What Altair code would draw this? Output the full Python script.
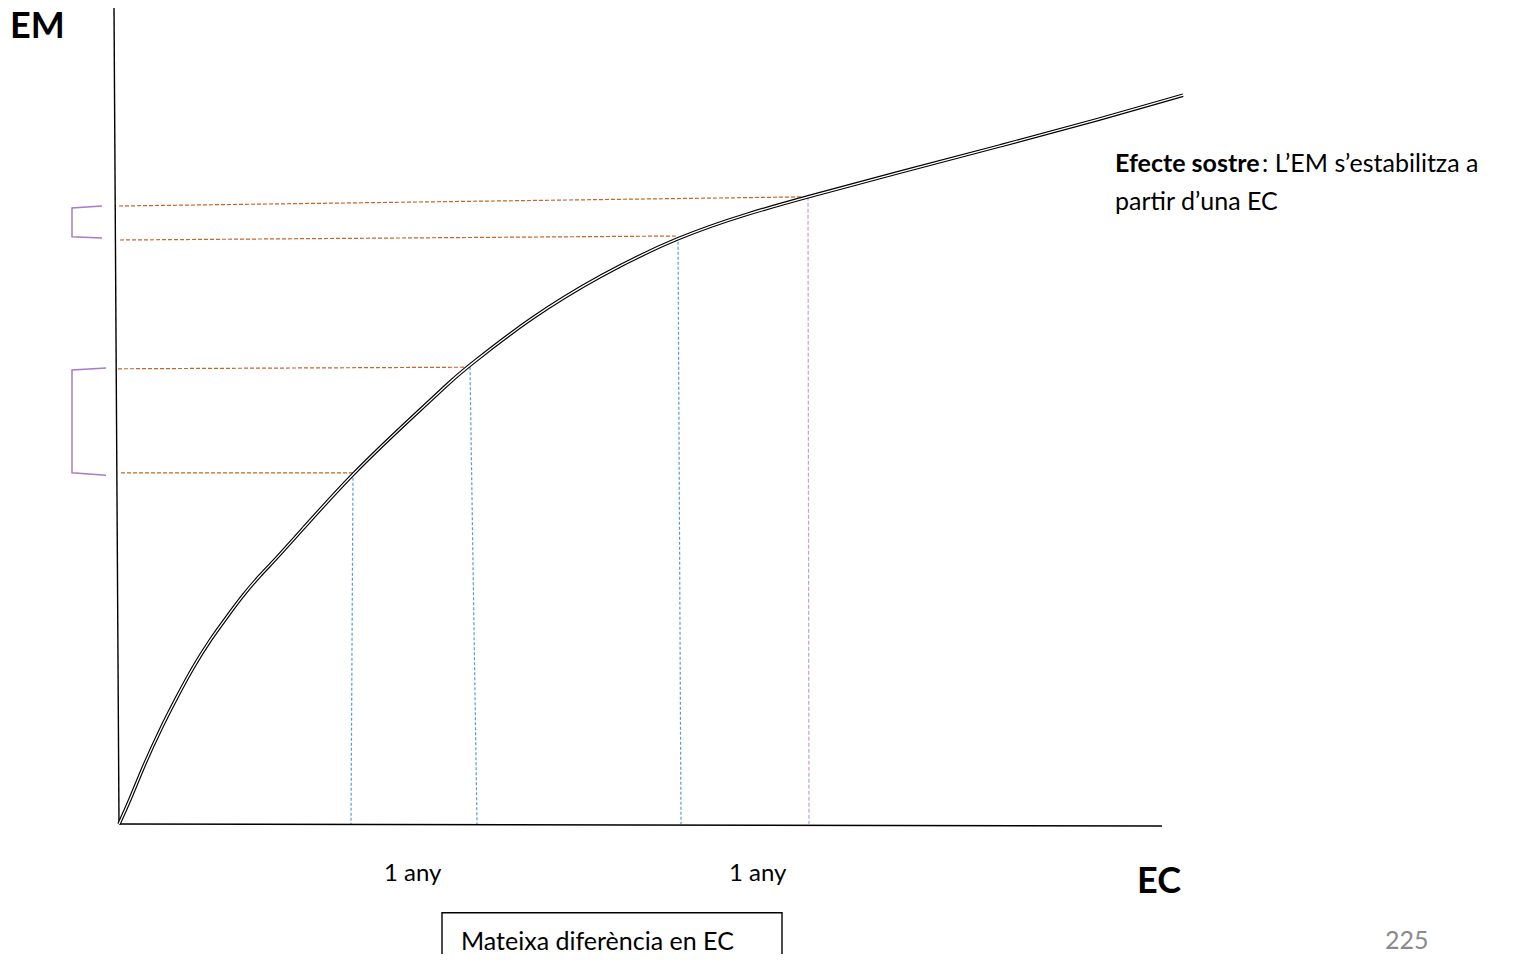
import altair as alt
import pandas as pd

# ---- data (EC on x, EM on y; origin at the axes' corner) ----
curve_ec = [0, 1.1, 2.4, 4.1, 5.8, 7.4, 9.1, 10.8, 12.4, 14.1, 15.6, 18.1, 23.4, 29.1, 33.3, 34.8, 41.1, 48.1, 55.9, 63.1, 68.9, 78.1, 88.1, 98.1, 106.4]
curve_em = [0, 3.0, 7.1, 11.75, 15.9, 19.6, 23.0, 25.9, 28.6, 31.1, 33.0, 36.5, 43.9, 50.6, 55.5, 57.1, 63.25, 68.6, 73.4, 76.4, 78.4, 81.5, 84.75, 88.1, 91.1]

# horizontal orange dashed guides: (ec_start, em_start, ec_end, em_end)
h_guides = [(0.0, 77.25, 68.9, 78.4), (0.1, 73.0, 55.9, 73.5), (-0.1, 56.9, 34.8, 57.1), (0.2, 43.9, 23.4, 43.9)]
# vertical blue dashed guides
v_blue = [(23.4, 43.9, 23.2, 0.0), (35.1, 57.1, 35.8, 0.0), (55.9, 73.4, 56.2, 0.0)]
# vertical purple dashed guide
v_purple = [(68.9, 78.4, 69.0, 0.0)]

# brackets on the EM axis
bracket_ec = [[-1.7, -4.7, -4.7, -1.7], [-1.3, -4.7, -4.7, -1.3]]
bracket_em = [[77.25, 77.0, 73.4, 73.25], [57.0, 56.75, 43.9, 43.6]]

# axes lines
axis_segments = [(-0.5, 102.0, 0.0, 0.0), (0.0, 0.0, 104.3, -0.25)]

XDOM = [-11.1, 140.2]
YDOM = [-16.25, 102.0]

xs = alt.Scale(domain=XDOM, nice=False, zero=False)
ys = alt.Scale(domain=YDOM, nice=False, zero=False)


def seg_df(segs):
    rows = []
    for i, (x1, y1, x2, y2) in enumerate(segs):
        rows.append({"g": i, "o": 0, "ec": x1, "em": y1})
        rows.append({"g": i, "o": 1, "ec": x2, "em": y2})
    return pd.DataFrame(rows)


def line_layer(df, **mark):
    return alt.Chart(df).mark_line(**mark).encode(
        x=alt.X("ec:Q", scale=xs, axis=None),
        y=alt.Y("em:Q", scale=ys, axis=None),
        detail="g:N",
        order="o:Q",
    )


curve_df = pd.DataFrame({"ec": curve_ec, "em": curve_em, "o": range(len(curve_ec)), "g": 0})

bracket_rows = []
for i, (bx, by) in enumerate(zip(bracket_ec, bracket_em)):
    for j, (a, b) in enumerate(zip(bx, by)):
        bracket_rows.append({"g": i, "o": j, "ec": a, "em": b})
bracket_df = pd.DataFrame(bracket_rows)

axes = line_layer(seg_df(axis_segments), color="black", strokeWidth=1.4)
orange = line_layer(seg_df(h_guides), color="#C8662A", strokeWidth=1.2, strokeDash=[4, 2])
blue = line_layer(seg_df(v_blue), color="#5B9BD5", strokeWidth=1.2, strokeDash=[3, 2])
purple = line_layer(seg_df(v_purple), color="#C3A0D5", strokeWidth=1.2, strokeDash=[4, 2])
brackets = line_layer(bracket_df, color="#A77DC9", strokeWidth=1.5)
curve_outer = line_layer(curve_df, color="black", strokeWidth=3.6, interpolate="basis")
curve_inner = line_layer(curve_df, color="white", strokeWidth=1.3, interpolate="basis")


def text_layer(rows, **mark):
    df = pd.DataFrame(rows)
    return alt.Chart(df).mark_text(align="left", **mark).encode(
        x=alt.X("ec:Q", scale=xs, axis=None),
        y=alt.Y("em:Q", scale=ys, axis=None),
        text="t:N",
    )


FONT = "Lato"
big_em = text_layer([{"ec": -10.9, "em": 98.2, "t": "EM"}],
                    font=FONT, fontSize=36, fontWeight="bold", baseline="alphabetic", color="black")
big_ec = text_layer([{"ec": 101.8, "em": -7.2, "t": "EC"}],
                    font=FONT, fontSize=36, fontWeight="bold", baseline="middle", color="black")
note_bold = text_layer([{"ec": 99.6, "em": 81.5, "t": "Efecte sostre"}],
                       font=FONT, fontSize=25, fontWeight="bold", baseline="alphabetic", color="black")
note_reg = text_layer([{"ec": 114.3, "em": 81.5, "t": ": L’EM s’estabilitza a"},
                       {"ec": 99.6, "em": 76.75, "t": "partir d’una EC"}],
                      font=FONT, fontSize=25, baseline="alphabetic", color="black")
years = text_layer([{"ec": 26.5, "em": -6.3, "t": "1 any"}, {"ec": 61.0, "em": -6.3, "t": "1 any"}],
                   font=FONT, fontSize=24, baseline="middle", color="black")
box_text = text_layer([{"ec": 34.2, "em": -14.7, "t": "Mateixa diferència en EC"}],
                      font=FONT, fontSize=25, baseline="middle", color="black")
page = text_layer([{"ec": 126.6, "em": -14.6, "t": "225"}],
                  font=FONT, fontSize=25, baseline="middle", color="#8a8a8a")

box = alt.Chart(pd.DataFrame([{"x1": 32.3, "x2": 66.3, "y1": -11.1, "y2": -20.0}])).mark_rect(
    fill="white", stroke="black", strokeWidth=1.4
).encode(
    x=alt.X("x1:Q", scale=xs, axis=None), x2="x2:Q",
    y=alt.Y("y1:Q", scale=ys, axis=None), y2="y2:Q",
)

chart = alt.layer(
    box, orange, blue, purple, brackets, axes, curve_outer, curve_inner,
    big_em, big_ec, note_bold, note_reg, years, box_text, page,
).properties(
    width=1513, height=946, padding=0, autosize=alt.AutoSizeParams(type="none"),
    background="white",
).configure_view(strokeWidth=0)

chart.save("out.html", embed_options={"renderer": "svg", "actions": False})
